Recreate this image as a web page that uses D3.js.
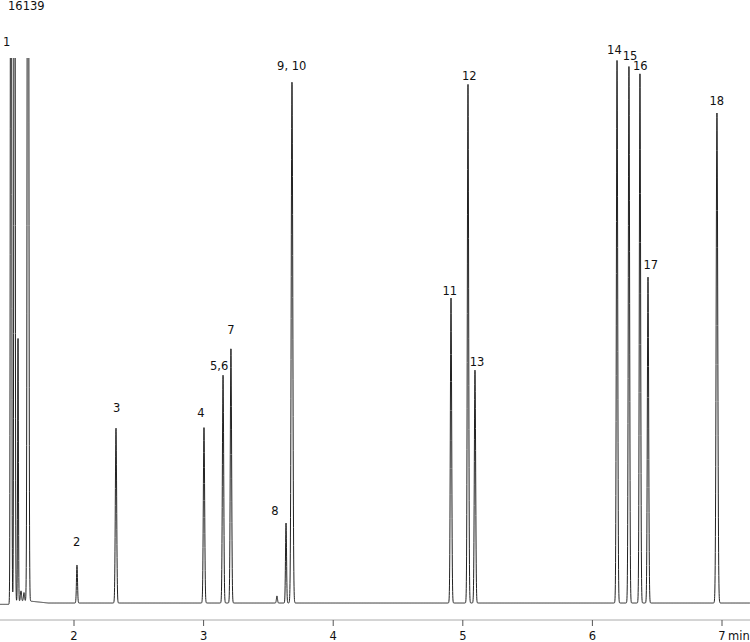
<!DOCTYPE html><html><head><meta charset="utf-8">
<script src="https://cdn.jsdelivr.net/npm/d3@7"></script>
<style>body{margin:0;background:#fff}text{font-family:"DejaVu Sans",sans-serif;font-size:11.5px;fill:#111}</style>
</head><body><svg id="c" width="750" height="642"></svg><script>
const peakTimes=[1.514,1.541,1.568,1.591,1.614,1.645,2.023,2.324,3.003,3.150,3.211,3.566,3.636,3.682,4.909,5.040,5.094,6.190,6.282,6.367,6.429,6.961];
const peakHeights=[40000,40000,7790,300,250,40000,1125,5180,5210,6750,7550,210,2370,15430,9030,15370,6900,16080,15900,15720,9650,14510];
const peakWidths=[0.004,0.004,0.003,0.004,0.004,0.005,0.004,0.005,0.005,0.005,0.005,0.004,0.004,0.006,0.005,0.005,0.005,0.005,0.005,0.005,0.005,0.006];
const labelTexts=["1","2","3","4","5,6","7","8","9, 10","11","12","13","14","15","16","17","18"];
const labelTimes=[1.48,2.02,2.33,2.98,3.12,3.21,3.55,3.68,4.90,5.05,5.11,6.17,6.29,6.37,6.45,6.96];
const labelValues=[16490,1690,5650,5505,6900,7960,2600,15780,9120,15480,7015,16250,16070,15780,9890,14740];
const xTicks=[2,3,4,5,6,7];
const yMax=16139;
const svg=d3.select("#c");
const x=d3.scaleLinear().domain([1.429,7.216]).range([0,750]);
const y=d3.scaleLinear().domain([0,yMax]).range([603,58]);
const ts=d3.range(1.429,7.216,0.0008);
function sig(t){let v=-60*Math.max(0,Math.min(1,(t-1.65)/0.15))+60;
 if(t<1.505)v=-40;
 for(let i=0;i<peakTimes.length;i++){const d=(t-peakTimes[i])/peakWidths[i];if(Math.abs(d)<8)v+=peakHeights[i]*Math.exp(-0.5*d*d);}
 return v;}
svg.append("clipPath").attr("id","cp").append("rect").attr("x",0).attr("y",58).attr("width",750).attr("height",560);
svg.append("path").datum(ts).attr("clip-path","url(#cp)").attr("fill","none").attr("stroke","#222").attr("stroke-width",1)
 .attr("d",d3.line().x(d=>x(d)).y(d=>y(sig(d))));
const ax=svg.append("g").attr("transform","translate(0,620)");
ax.append("line").attr("x1",0).attr("x2",750).attr("stroke","#aaa");
xTicks.forEach(t=>{ax.append("line").attr("x1",x(t)).attr("x2",x(t)).attr("y1",0).attr("y2",6).attr("stroke","#555");
 ax.append("text").attr("x",x(t)).attr("y",20).attr("text-anchor","middle").text(t);});
ax.append("text").attr("x",728).attr("y",20).text("min");
svg.append("text").attr("x",8).attr("y",10).text(yMax);
labelTexts.forEach((s,i)=>svg.append("text").attr("x",x(labelTimes[i])).attr("y",y(labelValues[i])).attr("text-anchor","middle").text(s));
</script></body></html>
